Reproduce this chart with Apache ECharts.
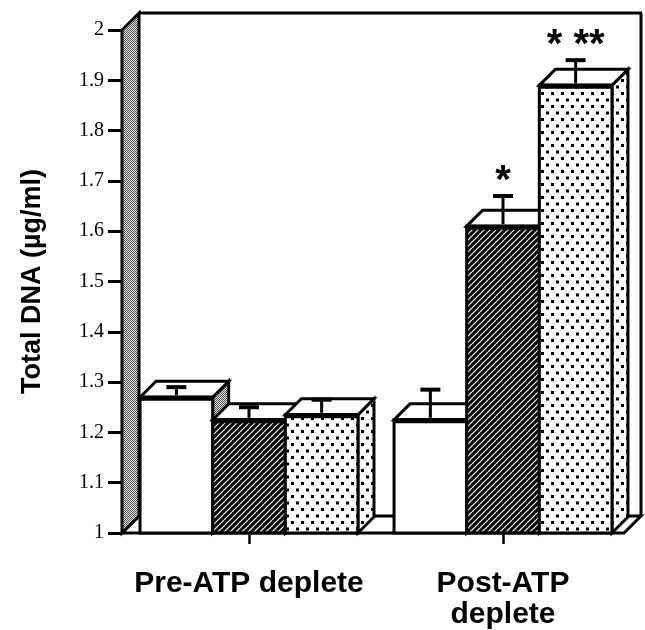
<!DOCTYPE html>
<html>
<head>
<meta charset="utf-8">
<script src="https://cdn.jsdelivr.net/npm/echarts@6/dist/echarts.min.js"></script>
<style>
html,body{margin:0;padding:0;background:#fff;}
#chart{width:645px;height:630px;}
</style>
</head>
<body>
<div id="chart"></div>
<script>
// ---- data ----
const categories = ['Pre-ATP deplete', 'Post-ATP\ndeplete'];
const yTickMin = 1;
const yTickMax = 2;
const yTickStep = 0.1;
const yAxisTitle = 'Total DNA (µg/ml)';

const openMean = [1.27, 1.225];
const openSem = [0.02, 0.06];
const openMarks = ['', ''];

const hatchMean = [1.225, 1.61];
const hatchSem = [0.025, 0.06];
const hatchMarks = ['', '*'];

const dotMean = [1.235, 1.89];
const dotSem = [0.03, 0.05];
const dotMarks = ['', '* **'];

// ---- patterns ----
function makeTile(w, h, draw) {
  const c = document.createElement('canvas');
  c.width = w; c.height = h;
  const g = c.getContext('2d');
  draw(g);
  return { image: c, repeat: 'repeat' };
}
const grayPat = makeTile(2, 2, g => {
  g.fillStyle = '#e2e2e2'; g.fillRect(0, 0, 2, 2);
  g.fillStyle = '#555'; g.fillRect(0, 0, 1, 1); g.fillRect(1, 1, 1, 1);
});
const hatchPat = makeTile(6, 6, g => {
  g.fillStyle = '#000'; g.fillRect(0, 0, 6, 6);
  g.strokeStyle = '#fff'; g.lineWidth = 1.2;
  g.beginPath();
  g.moveTo(-1, 7); g.lineTo(7, -1);
  g.moveTo(-4, 4); g.lineTo(4, -4);
  g.moveTo(2, 10); g.lineTo(10, 2);
  g.stroke();
});
const dotPat = makeTile(10, 13, g => {
  g.fillStyle = '#fff'; g.fillRect(0, 0, 10, 13);
  g.fillStyle = '#000';
  g.fillRect(1, 1, 3, 3);
  g.fillRect(6, 7.5, 3, 3);
});

const DEPTH = 16;
const WALL_DEPTH = 17;
const BAR_FRAC = 0.286;
const LW = 3;

function makeBarRenderer(slot, frontFill, sideFill, marks) {
  return function (params, api) {
    const cat = api.value(0), mean = api.value(1), sem = api.value(2);
    const top = api.coord([cat, mean]);
    const base = api.coord([cat, yTickMin]);
    const cap = api.coord([cat, mean + sem]);
    const band = api.size([1, 0])[0];
    const w = band * BAR_FRAC;
    const x0 = top[0] + (slot - 1.5) * w;
    const x1 = x0 + w;
    const yT = top[1], yB = base[1], d = DEPTH;
    const cx = x0 + w / 2;
    const children = [
      { type: 'polygon', shape: { points: [[x1, yT], [x1 + d, yT - d], [x1 + d, yB - d], [x1, yB]] },
        style: { fill: sideFill, stroke: '#000', lineWidth: LW, lineJoin: 'miter' } },
      { type: 'polygon', shape: { points: [[x0, yT], [x0 + d, yT - d], [x1 + d, yT - d], [x1, yT]] },
        style: { fill: '#fff', stroke: '#000', lineWidth: LW, lineJoin: 'miter' } },
      { type: 'rect', shape: { x: x0, y: yT, width: w, height: yB - yT },
        style: { fill: frontFill, stroke: '#000', lineWidth: LW } },
      { type: 'line', shape: { x1: x0 - 1, y1: yT + 1, x2: x1 + 1, y2: yT + 1 },
        style: { stroke: '#000', lineWidth: 5 } },
      { type: 'line', shape: { x1: cx, y1: cap[1], x2: cx, y2: yT - 2 },
        style: { stroke: '#000', lineWidth: 3 } },
      { type: 'line', shape: { x1: cx - 10, y1: cap[1], x2: cx + 10, y2: cap[1] },
        style: { stroke: '#000', lineWidth: 4 } }
    ];
    const mk = marks[params.dataIndex];
    if (mk) {
      children.push({ type: 'text', x: cx, y: cap[1] - 14,
        style: { text: mk, fill: '#000', font: 'bold 40px "Liberation Sans", Arial', align: 'center', verticalAlign: 'middle' } });
    }
    return { type: 'group', children };
  };
}

function frameRenderer(params, api) {
  const cs = params.coordSys;
  const xL = cs.x, yT = cs.y, yB = cs.y + cs.height, xR = cs.x + cs.width - 6, D = WALL_DEPTH;
  return { type: 'group', children: [
    { type: 'polygon', shape: { points: [[xL, yB], [xR, yB], [xR + D, yB - D], [xL + D, yB - D]] },
      style: { fill: '#fff', stroke: '#000', lineWidth: LW, lineJoin: 'miter' } },
    { type: 'line', shape: { x1: xR + D, y1: yT - D, x2: xR + D, y2: yB - D }, style: { stroke: '#000', lineWidth: LW } },
    { type: 'line', shape: { x1: xL + D, y1: yT - D, x2: xR + D + 1, y2: yT - D }, style: { stroke: '#000', lineWidth: LW } },
    { type: 'polygon', shape: { points: [[xL, yB], [xL, yT], [xL + D, yT - D], [xL + D, yB - D]] },
      style: { fill: grayPat, stroke: '#000', lineWidth: LW, lineJoin: 'miter' } }
  ] };
}

function rows(means, sems) { return means.map((m, i) => [i, m, sems[i]]); }

const chart = echarts.init(document.getElementById('chart'), null, { renderer: 'canvas' });
chart.setOption({
  animation: false,
  backgroundColor: '#fff',
  grid: { left: 122, right: 15, top: 30, bottom: 93 },
  xAxis: {
    type: 'category', data: categories,
    axisLine: { show: false },
    axisTick: { show: true, alignWithLabel: true, interval: 0, length: 11, lineStyle: { color: '#000', width: 2.5 } },
    axisLabel: { interval: 0, hideOverlap: false, color: '#000', fontFamily: '"Liberation Sans", Arial', fontWeight: 'bold', fontSize: 30, lineHeight: 31, margin: 35 }
  },
  yAxis: {
    type: 'value', min: yTickMin, max: yTickMax, interval: yTickStep,
    name: yAxisTitle, nameLocation: 'middle', nameRotate: 90, nameGap: 76,
    nameTextStyle: { color: '#000', fontFamily: '"Liberation Sans", Arial', fontWeight: 'bold', fontSize: 27 },
    axisLine: { show: true, lineStyle: { color: '#000', width: 3 } },
    axisTick: { show: true, length: 14, lineStyle: { color: '#000', width: 3 } },
    splitLine: { show: false },
    axisLabel: { color: '#000', fontFamily: '"Liberation Serif", "Times New Roman", serif', fontSize: 20, margin: 18 }
  },
  series: [
    { type: 'custom', z: 1, renderItem: frameRenderer, data: [[0, yTickMin]], silent: true },
    { type: 'custom', z: 3, renderItem: makeBarRenderer(0, '#fff', grayPat, openMarks), data: rows(openMean, openSem) },
    { type: 'custom', z: 4, renderItem: makeBarRenderer(1, hatchPat, hatchPat, hatchMarks), data: rows(hatchMean, hatchSem) },
    { type: 'custom', z: 5, renderItem: makeBarRenderer(2, dotPat, dotPat, dotMarks), data: rows(dotMean, dotSem) }
  ]
});
</script>
</body>
</html>
